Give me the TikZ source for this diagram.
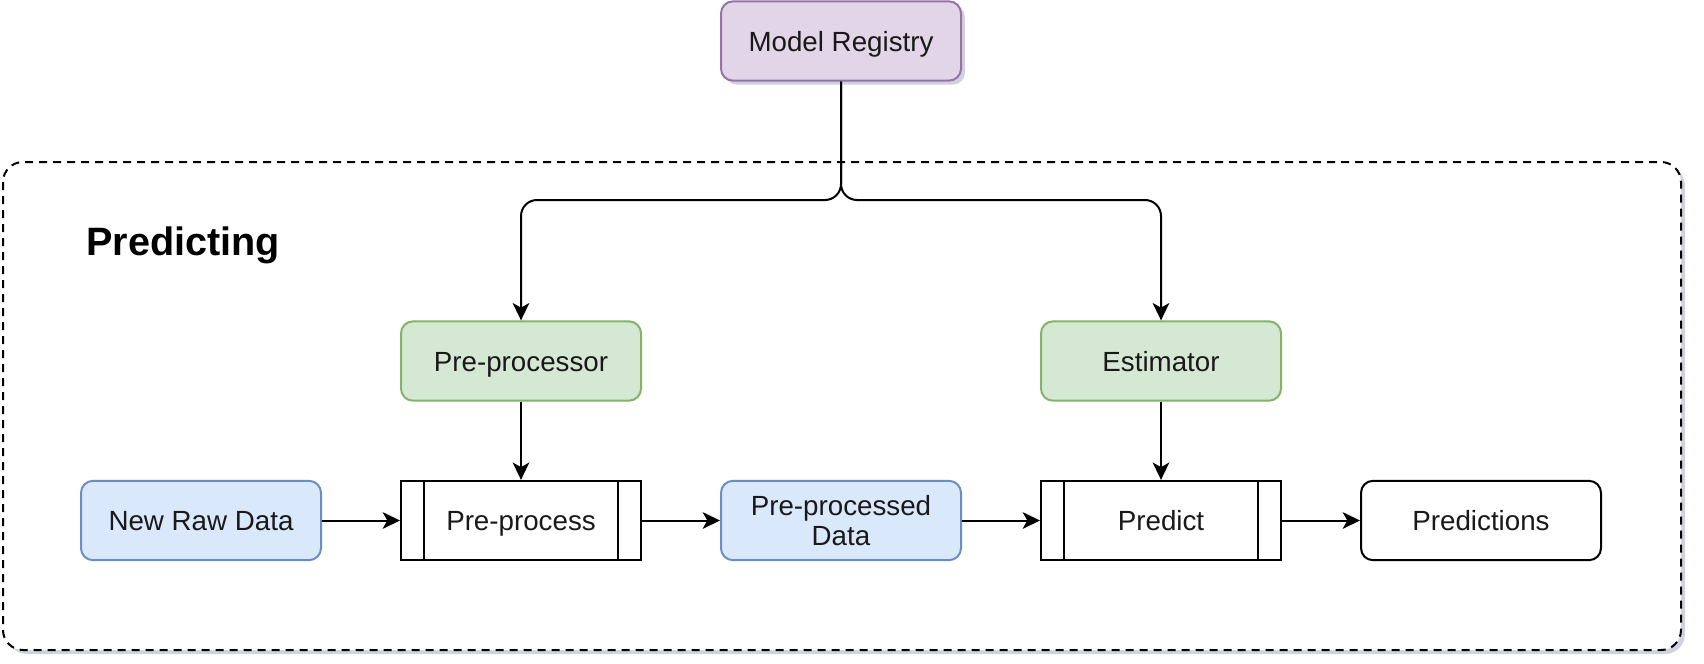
\documentclass[tikz,border=0pt]{standalone}
\usepackage{fontspec}
\setmainfont{Liberation Sans}
\usetikzlibrary{arrows.meta,shadows,positioning}
\definecolor{purpfill}{HTML}{E1D5E7}
\definecolor{purpline}{HTML}{9673A6}
\definecolor{grnfill}{HTML}{D5E8D4}
\definecolor{grnline}{HTML}{82B366}
\definecolor{blufill}{HTML}{DAE8FC}
\definecolor{bluline}{HTML}{6C8EBF}
\definecolor{shadowcol}{HTML}{9A9CB8}
\tikzset{
  box/.style={draw, line width=1.5pt, rounded corners=9pt, minimum width=180pt, minimum height=59.5pt,
    inner sep=0pt, align=center, font=\fontsize{20.8pt}{22.9pt}\selectfont, text=black!90},
  oneline/.style={text height=15pt, text depth=0pt},
  purpbox/.style={box, oneline, draw=purpline, fill=purpfill},
  grnbox/.style={box, oneline, draw=grnline, fill=grnfill},
  blubox/.style={box, draw=bluline, fill=blufill},
  plainbox/.style={box, oneline, draw=black, fill=white},
  procbox/.style={box, oneline, draw=black, fill=white, rounded corners=0pt},
  mshadow/.style={drop shadow={shadow xshift=3pt, shadow yshift=-3pt, opacity=0.45, fill=shadowcol}},
  conn/.style={line width=1.5pt, -{Stealth[length=13pt,width=12.5pt,inset=3.5pt]}},
}
\begin{document}
\begin{tikzpicture}[x=0.75pt,y=-0.75pt]
\useasboundingbox (0,0) rectangle (1704,664);
% container
\draw[line width=1.5pt, dash pattern=on 6pt off 4.5pt, rounded corners=15pt, fill=white,
  drop shadow={shadow xshift=3pt, shadow yshift=-3pt, opacity=0.45, fill=shadowcol}]
  (3,162) rectangle (1681,650);
\node[anchor=base west, inner sep=0pt, font=\fontsize{29.7pt}{33pt}\selectfont\bfseries] (title) at (86,255) {Predicting};

\node[purpbox, mshadow] (mr) at (841,41) {Model Registry};
\node[grnbox] (ppr) at (521,361) {Pre-processor};
\node[grnbox] (est) at (1161,361) {Estimator};
\node[blubox, oneline] (raw) at (201,520.5) {New Raw Data};
\node[procbox] (pp) at (521,520.5) {Pre-process};
\node[blubox] (ppd) at (841,520.5) {Pre-processed\\Data};
\node[procbox] (pred) at (1161,520.5) {Predict};
\node[plainbox] (out) at (1481,520.5) {Predictions};

% inner bars of process boxes
\draw[line width=1.5pt] ([xshift=18pt]pp.north west) -- ([xshift=18pt]pp.south west);
\draw[line width=1.5pt] ([xshift=-18pt]pp.north east) -- ([xshift=-18pt]pp.south east);
\draw[line width=1.5pt] ([xshift=18pt]pred.north west) -- ([xshift=18pt]pred.south west);
\draw[line width=1.5pt] ([xshift=-18pt]pred.north east) -- ([xshift=-18pt]pred.south east);

\coordinate (j) at (841,200);
\draw[conn, rounded corners=12pt] (mr.south) -- (j) -| (ppr.north);
\draw[conn, rounded corners=12pt] (mr.south) -- (j) -| (est.north);
\draw[conn] (ppr.south) -- (pp.north);
\draw[conn] (est.south) -- (pred.north);
\draw[conn] (raw.east) -- (pp.west);
\draw[conn] (pp.east) -- (ppd.west);
\draw[conn] (ppd.east) -- (pred.west);
\draw[conn] (pred.east) -- (out.west);
\end{tikzpicture}
\end{document}
